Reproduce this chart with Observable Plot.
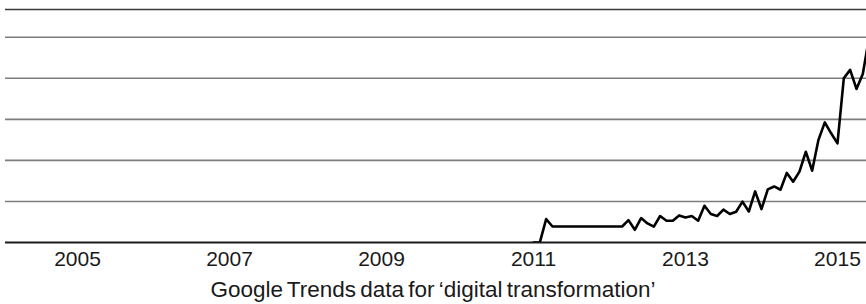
<!DOCTYPE html>
<html>
<head>
<meta charset="utf-8">
<script src="https://cdn.jsdelivr.net/npm/d3@7"></script>
<script src="https://cdn.jsdelivr.net/npm/@observablehq/plot@0.6"></script>
<style>
  html, body { margin: 0; padding: 0; background: #fff; }
  #chart { width: 866px; }
  #caption {
    width: 866px; text-align: center;
    font-family: "Liberation Sans", Arial, sans-serif;
    font-size: 22.5px; line-height: 24px; color: #1a1a1a;
    margin-top: 2px; word-spacing: -2px;
  }
</style>
</head>
<body>
<div id="chart"></div>
<div id="caption">Google Trends data for ‘digital transformation’</div>
<script>
// Monthly Google Trends interest, starting January 2011 (earlier months are 0)
const startYear = 2011;
const startMonth = 0; // January
const interest = [
  0, 0, 11.4, 7.8, 7.8, 7.8, 7.8, 7.8, 7.8, 7.8, 7.8, 7.8, 7.8, 7.8,
  7.8, 10.9, 6.2, 11.9, 9.3, 7.7, 12.9, 10.6, 10.6, 13.2, 12.2, 12.9,
  10.6, 17.9, 13.9, 12.9, 16, 13.9, 15, 19.9, 15.1, 24.9, 16.3, 25.9,
  27.3, 25.7, 33.9, 29.6, 34.5, 44.2, 35, 50, 58.5, 53.2, 48.3, 80,
  84.1, 74.8, 82.1, 100
];
const yearTicks = [2005, 2007, 2009, 2011, 2013, 2015];
const gridValues = [20, 40, 60, 80, 100];
const xDomain = [2004, 2015.382];
const yTop = 113.5;

const data = interest.map((v, i) => ({
  t: startYear + (startMonth + i) / 12,
  v
}));

const chart = Plot.plot({
  width: 866,
  height: 276,
  marginLeft: 5,
  marginRight: 0,
  marginTop: 9,
  marginBottom: 34,
  style: {fontFamily: "Liberation Sans, Arial, sans-serif", fontSize: "21px", color: "#1a1a1a", background: "#fff"},
  x: {domain: xDomain, range: [1, 866], ticks: yearTicks, tickSize: 0, tickPadding: 9, tickFormat: d => String(d), label: null},
  y: {domain: [0, yTop], axis: null},
  marks: [
    Plot.ruleY(gridValues, {stroke: "#7d7d7d", strokeWidth: 1.6}),
    Plot.ruleY([yTop], {stroke: "#3a3a3a", strokeWidth: 1.6}),
    Plot.ruleY([0], {stroke: "#1a1a1a", strokeWidth: 2.2}),
    Plot.line(data, {x: "t", y: "v", stroke: "#000", strokeWidth: 2.6, clip: true})
  ]
});
document.getElementById("chart").appendChild(chart);
</script>
</body>
</html>
